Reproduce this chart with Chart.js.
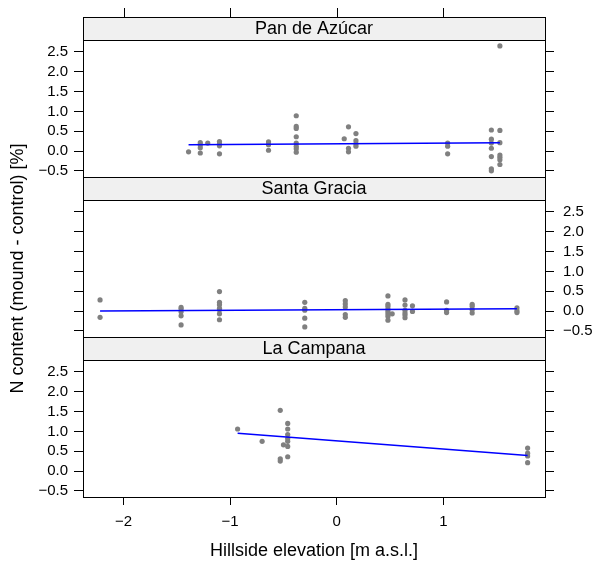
<!DOCTYPE html>
<html>
<head>
<meta charset="utf-8">
<script src="https://cdn.jsdelivr.net/npm/chart.js"></script>
<style>
  html, body { margin: 0; padding: 0; background: #ffffff; }
  #wrap { position: relative; width: 596px; height: 568px; }
  #wrap canvas { position: absolute; left: 0; top: 0; }
</style>
</head>
<body>
<div id="wrap">
  <canvas id="c1" width="596" height="568"></canvas>
  <canvas id="c2" width="596" height="568"></canvas>
  <canvas id="c3" width="596" height="568"></canvas>
</div>
<script>
// ---------------- data ----------------
const panelNames = ["Pan de Azúcar", "Santa Gracia", "La Campana"];
const xTickValues = [-2, -1, 0, 1];
const yTickValues = [-0.5, 0, 0.5, 1, 1.5, 2, 2.5];
const xLimits = [-2.38, 1.953];
const yLimits = [-0.655, 2.80];
const xTitle = "Hillside elevation [m a.s.l.]";
const yTitle = "N content (mound - control) [%]";

// Pan de Azúcar
const panX = [-1.39,
  -1.28, -1.28, -1.28, -1.28,
  -1.21,
  -1.10, -1.10, -1.10, -1.10,
  -0.64, -0.64, -0.64,
  -0.38, -0.38, -0.38, -0.38, -0.38, -0.38, -0.38, -0.38,
  0.07,
  0.11, 0.11, 0.11,
  0.18, 0.18, 0.18, 0.18,
  1.04, 1.04, 1.04,
  1.45, 1.45, 1.45, 1.45, 1.45, 1.45, 1.45,
  1.53, 1.53, 1.53, 1.53, 1.53, 1.53, 1.53];
const panY = [-0.02,
  0.21, 0.15, 0.08, -0.05,
  0.20,
  0.24, 0.18, 0.13, -0.07,
  0.23, 0.16, 0.02,
  0.89, 0.62, 0.57, 0.36, 0.20, 0.12, 0.06, -0.03,
  0.31,
  0.61, 0.07, -0.02,
  0.44, 0.26, 0.18, 0.12,
  0.20, 0.12, -0.07,
  0.53, 0.30, 0.20, 0.07, -0.14, -0.45, -0.50,
  2.65, 0.52, 0.21, -0.10, -0.16, -0.22, -0.34];
const panFitX = [-1.39, 1.53];
const panFitY = [0.16, 0.21];

// Santa Gracia
const sgX = [-2.22, -2.22,
  -1.46, -1.46, -1.46, -1.46, -1.46,
  -1.10, -1.10, -1.10, -1.10, -1.10, -1.10, -1.10,
  -0.30, -0.30, -0.30, -0.30, -0.30,
  0.08, 0.08, 0.08, 0.08, 0.08,
  0.48, 0.48, 0.48, 0.48, 0.48, 0.48, 0.48, 0.48,
  0.52,
  0.64, 0.64, 0.64, 0.64, 0.64, 0.64,
  0.71, 0.71,
  1.03, 1.03, 1.03,
  1.27, 1.27, 1.27, 1.27,
  1.69, 1.69, 1.69];
const sgY = [0.28, -0.16,
  0.09, 0.05, -0.02, -0.12, -0.35,
  0.49, 0.22, 0.16, 0.07, 0.03, -0.07, -0.22,
  0.22, 0.07, 0.02, -0.18, -0.40,
  0.26, 0.18, 0.10, -0.09, -0.16,
  0.38, 0.17, 0.12, 0.05, -0.01, -0.07, -0.13, -0.23,
  -0.07,
  0.28, 0.15, 0.02, -0.05, -0.10, -0.17,
  0.13, -0.01,
  0.23, 0.02, -0.04,
  0.17, 0.12, 0.03, -0.05,
  0.08, 0.01, -0.04];
const sgFitX = [-2.22, 1.69];
const sgFitY = [0.00, 0.06];

// La Campana
const lcX = [-0.93, -0.70,
  -0.53, -0.53, -0.53,
  -0.50,
  -0.46, -0.46, -0.46, -0.46, -0.46, -0.46, -0.46,
  1.79, 1.79, 1.79, 1.79];
const lcY = [1.06, 0.75,
  1.53, 0.31, 0.25,
  0.66,
  1.20, 1.06, 0.92, 0.82, 0.75, 0.62, 0.36,
  0.58, 0.45, 0.38, 0.21];
const lcFitX = [-0.93, 1.79];
const lcFitY = [0.95, 0.39];

// ---------------- drawing ----------------
const FONT = "'Liberation Sans', Arial, Helvetica, sans-serif";
const pairs = (xs, ys) => xs.map((x, i) => ({ x: x, y: ys[i] }));
const fmtNum = (v, d) => v.toFixed(d).replace('-', '\u2212');

const panelDecor = {
  id: 'panelDecor',
  afterDraw(chart, args, o) {
    const ctx = chart.ctx;
    const a = chart.chartArea;
    const stripH = 23;
    ctx.save();
    // strip
    ctx.fillStyle = '#f0f0f0';
    ctx.fillRect(a.left, a.top - stripH, a.right - a.left, stripH);
    ctx.strokeStyle = '#000';
    ctx.lineWidth = 1;
    ctx.strokeRect(Math.round(a.left) + 0.5, Math.round(a.top - stripH) + 0.5,
                   Math.round(a.right - a.left), stripH);
    ctx.fillStyle = '#000';
    ctx.font = '18px ' + FONT;
    ctx.textAlign = 'center';
    ctx.textBaseline = 'middle';
    ctx.fillText(o.label, (a.left + a.right) / 2, a.top - stripH / 2 + 1);
    // panel border
    ctx.strokeRect(Math.round(a.left) + 0.5, Math.round(a.top) + 0.5,
                   Math.round(a.right - a.left), Math.round(a.bottom - a.top));
    // top ticks above the first strip
    if (o.topTicks) {
      const xs = chart.scales.x;
      ctx.beginPath();
      xTickValues.forEach(v => {
        const px = Math.round(xs.getPixelForValue(v)) + 0.5;
        ctx.moveTo(px, a.top - stripH);
        ctx.lineTo(px, a.top - stripH - 9);
      });
      ctx.stroke();
    }
    ctx.restore();
  }
};

function makePanel(id, cfg) {
  const tickFont = { family: FONT, size: 15 };
  const yScale = (pos, showLabels, width, pad) => ({
    type: 'linear',
    position: pos,
    min: yLimits[0],
    max: yLimits[1],
    afterBuildTicks: s => { s.ticks = yTickValues.map(v => ({ value: v })); },
    afterFit: s => { s.width = width; },
    ticks: {
      color: showLabels ? '#000' : 'rgba(0,0,0,0)',
      font: tickFont,
      padding: pad,
      callback: v => fmtNum(v, 1)
    },
    grid: { drawOnChartArea: false, drawTicks: true, tickLength: 9, tickColor: '#000', tickWidth: 1 },
    border: { display: false }
  });
  const yLeft = yScale('left', cfg.leftLabels, 83, 6);
  if (cfg.yTitle) {
    yLeft.title = { display: true, text: yTitle, color: '#000',
      font: { family: FONT, size: 18 }, padding: { top: 7, bottom: 0 } };
  }
  const yRight = yScale('right', cfg.rightLabels, 51, 9);
  const xScale = {
    type: 'linear',
    position: 'bottom',
    min: xLimits[0],
    max: xLimits[1],
    afterBuildTicks: s => { s.ticks = xTickValues.map(v => ({ value: v })); },
    afterFit: s => { s.height = cfg.xAxis ? 71 : 0; },
    ticks: {
      display: !!cfg.xAxis, color: '#000', font: tickFont, padding: 8,
      autoSkip: false, maxRotation: 0, callback: v => fmtNum(v, 0)
    },
    grid: cfg.xAxis
      ? { drawOnChartArea: false, drawTicks: true, tickLength: 8, tickColor: '#000', tickWidth: 1 }
      : { display: false },
    border: { display: false },
    title: cfg.xAxis
      ? { display: true, text: xTitle, color: '#000', font: { family: FONT, size: 18 }, padding: { top: 0, bottom: 6 } }
      : { display: false }
  };
  return new Chart(document.getElementById(id), {
    type: 'scatter',
    data: {
      datasets: [
        {
          data: pairs(cfg.fitX, cfg.fitY),
          showLine: true,
          borderColor: '#0000ff',
          borderWidth: 1.5,
          pointRadius: 0,
          fill: false,
          order: 0
        },
        {
          data: pairs(cfg.xs, cfg.ys),
          showLine: false,
          pointRadius: 2.6,
          pointBorderWidth: 0,
          backgroundColor: '#808080',
          borderColor: '#808080',
          order: 1
        }
      ]
    },
    options: {
      responsive: false,
      animation: false,
      events: [],
      layout: { padding: { left: 0, right: 0, top: cfg.top, bottom: cfg.bottom } },
      scales: { x: xScale, y: yLeft, y2: yRight },
      plugins: {
        legend: { display: false },
        tooltip: { enabled: false },
        panelDecor: { label: cfg.label, topTicks: !!cfg.topTicks }
      }
    },
    plugins: [panelDecor]
  });
}

makePanel('c1', { label: panelNames[0], xs: panX, ys: panY, fitX: panFitX, fitY: panFitY,
  top: 40, bottom: 391, leftLabels: true, rightLabels: false, topTicks: true });
makePanel('c2', { label: panelNames[1], xs: sgX, ys: sgY, fitX: sgFitX, fitY: sgFitY,
  top: 200, bottom: 231, leftLabels: false, rightLabels: true, yTitle: true });
makePanel('c3', { label: panelNames[2], xs: lcX, ys: lcY, fitX: lcFitX, fitY: lcFitY,
  top: 360, bottom: 0, leftLabels: true, rightLabels: false, xAxis: true });
</script>
</body>
</html>
